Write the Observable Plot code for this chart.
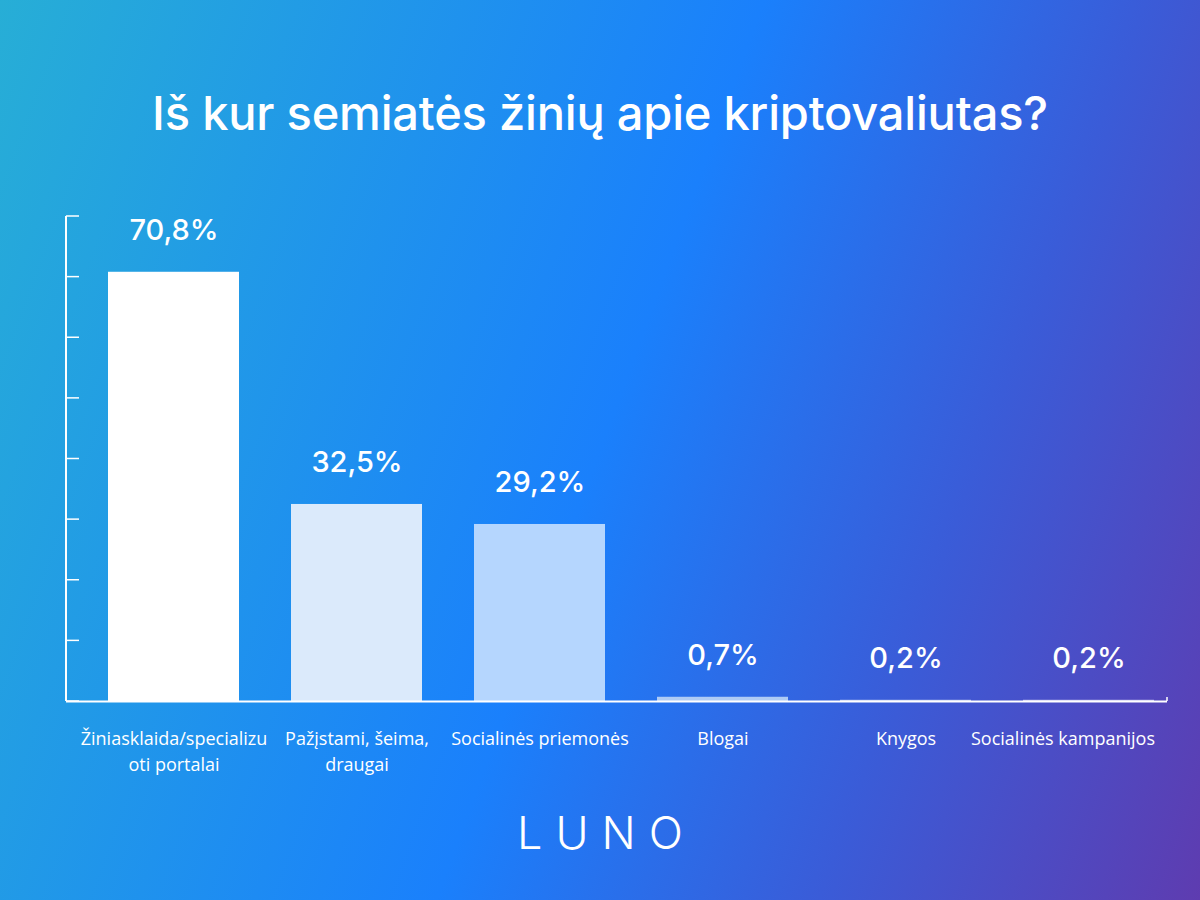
<!DOCTYPE html>
<html><head><meta charset="utf-8">
<script src="https://cdn.jsdelivr.net/npm/d3@7"></script>
<script src="https://cdn.jsdelivr.net/npm/@observablehq/plot@0.6"></script>
<style>
html,body{margin:0;padding:0;}
#card{position:relative;width:1200px;height:900px;overflow:hidden;background:linear-gradient(110deg,#27aed6 0%,#1a80fc 50%,#3a5cd8 75%,#5e3cb0 100%);font-family:Inter,sans-serif;}
#title{position:absolute;left:0;top:83px;width:1200px;text-align:center;color:#fff;font-size:47px;font-weight:500;line-height:60px;letter-spacing:-0.2px;}
#chart{position:absolute;left:0;top:190px;}
#logo{position:absolute;left:0;top:803px;width:1200px;text-align:center;color:#fff;font-size:45px;font-weight:300;letter-spacing:13px;text-indent:13px;line-height:60px;}
</style></head>
<body>
<div id="card">
  <div id="title">Iš kur semiatės žinių apie kriptovaliutas?</div>
  <div id="chart"></div>
  <div id="logo">LUNO</div>
</div>
<script>
const categories = ["Žiniasklaida/specializu\noti portalai","Pažįstami, šeima,\ndraugai","Socialinės priemonės","Blogai","Knygos","Socialinės kampanijos"];
const values = [70.8, 32.5, 29.2, 0.7, 0.2, 0.2];
const valueLabels = ["70,8%","32,5%","29,2%","0,7%","0,2%","0,2%"];
const yTicks = [0,10,20,30,40,50,60,70,80];

const data = categories.map((c,i)=>({category:c, value:values[i], label:valueLabels[i]}));

const axisLine = (index, scales, values, dims) => {
  const g = d3.create("svg:g").attr("stroke","#fff");
  const x0 = dims.marginLeft;
  g.append("line").attr("x1",x0).attr("x2",x0)
    .attr("y1",scales.y(80)).attr("y2",scales.y(0)).attr("stroke-width",2);
  for (const t of yTicks) {
    g.append("line").attr("x1",x0).attr("x2",x0+13)
      .attr("y1",scales.y(t)).attr("y2",scales.y(t)).attr("stroke-width",1.5);
  }
  const xr = dims.width - dims.marginRight;
  g.append("line").attr("x1",xr).attr("x2",xr)
    .attr("y1",scales.y(0)).attr("y2",scales.y(0)-4).attr("stroke-width",1.5);
  return g.node();
};

const labelStyle = {tickSize:0, tickPadding:26, fontSize:18, fill:"#fff", lineHeight:1.4, fontFamily:"'Open Sans'", lineAnchor:"top", label:null};

const chart = Plot.plot({
  width:1200, height:600,
  marginLeft:66, marginRight:33, marginTop:26, marginBottom:89,
  style:{background:"transparent", color:"#fff", overflow:"visible"},
  x:{domain:categories, paddingInner:0.2855, paddingOuter:0.146, align:0.766, label:null, axis:null},
  y:{domain:[0,80], label:null, axis:null},
  color:{domain:categories, range:["#ffffff","#dbeafb","#b5d6fe","#aecbf5","#bccbef","#c4c4ee"]},
  marks:[
    Plot.barY(data,{x:"category", y:"value", fill:"category"}),
    Plot.ruleY([0],{stroke:"#fff", strokeWidth:2}),
    axisLine,
    Plot.text(data,{x:"category", y:"value", text:"label", dy:-42, fill:"#fff", fontSize:29, fontWeight:500, fontFamily:"Inter"}),
    Plot.axisX(categories.slice(0,5), labelStyle),
    Plot.axisX(categories.slice(5), {...labelStyle, textAnchor:"end", dx:66})
  ]
});
document.getElementById("chart").appendChild(chart);
</script>
</body></html>
